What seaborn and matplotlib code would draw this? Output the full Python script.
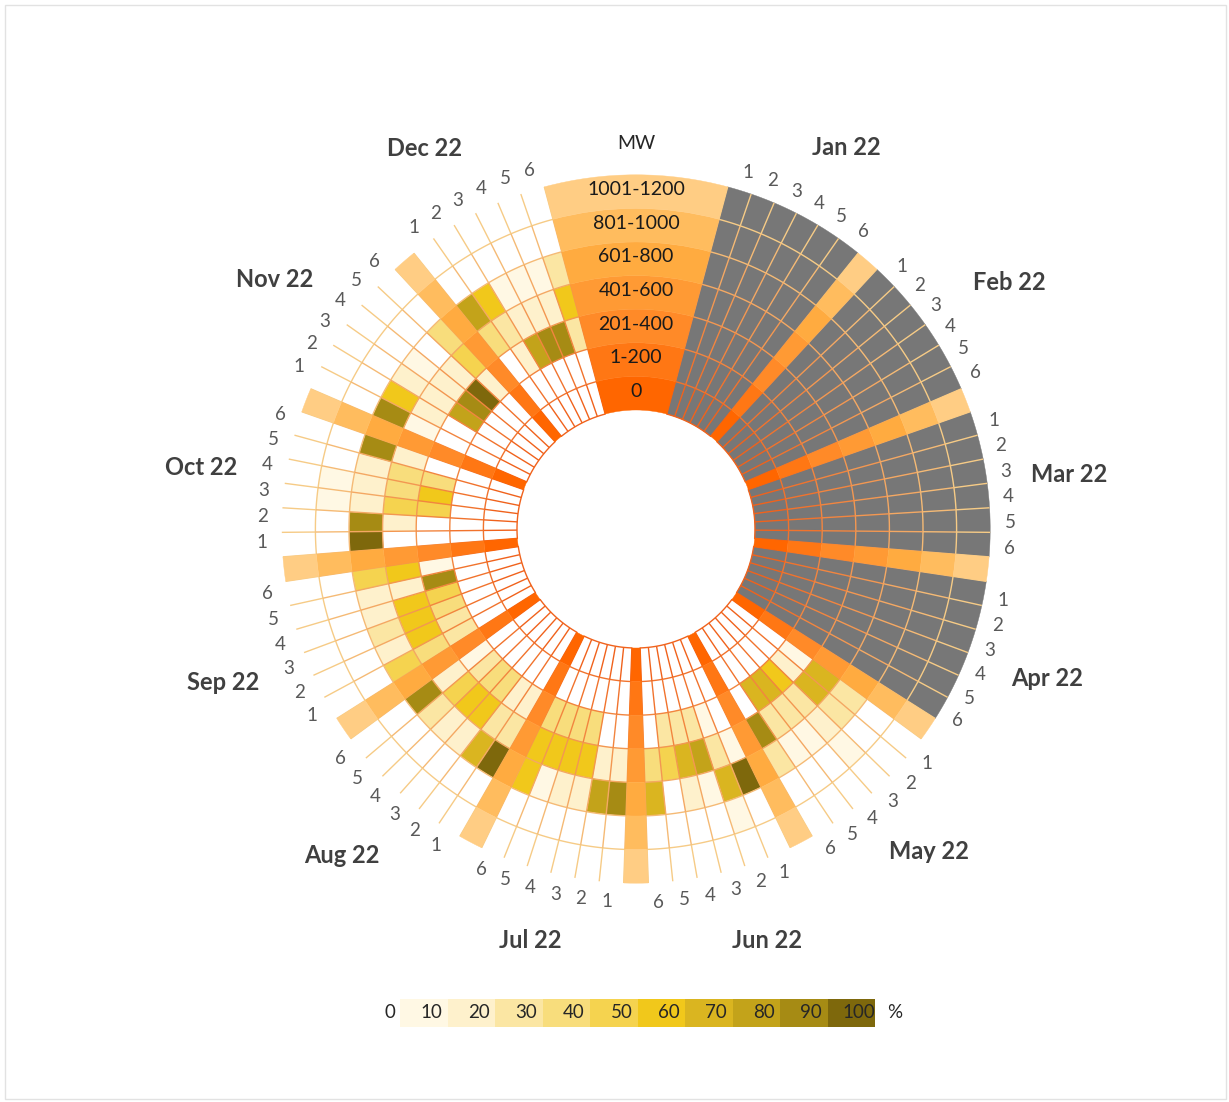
import numpy as np
import matplotlib
matplotlib.use("Agg")
import matplotlib.pyplot as plt
from matplotlib.colors import ListedColormap
from matplotlib.patches import Rectangle
import seaborn as sns

# ---------------- data ----------------
months = ["Jan 22", "Feb 22", "Mar 22", "Apr 22", "May 22", "Jun 22",
          "Jul 22", "Aug 22", "Sep 22", "Oct 22", "Nov 22", "Dec 22"]
items = ["1", "2", "3", "4", "5", "6"]
mw_bins = ["0", "1-200", "201-400", "401-600", "601-800", "801-1000", "1001-1200"]
legend_ticks = ["0", "10", "20", "30", "40", "50", "60", "70", "80", "90", "100"]

# share of time (%) per item and MW bin (inner -> outer); None = no data
jan = None
feb = None
mar = None
apr = None
may = [[0, 0, 5, 65, 25, 0, 0],
       [0, 0, 15, 65, 25, 0, 0],
       [0, 0, 55, 25, 15, 5, 0],
       [0, 0, 65, 25, 5, 0, 0],
       [0, 0, 65, 25, 5, 0, 0],
       [0, 0, 0, 85, 25, 0, 0]]
jun = [[0, 0, 0, 5, 95, 0, 0],
       [0, 0, 5, 25, 65, 5, 0],
       [0, 0, 25, 70, 5, 0, 0],
       [0, 0, 25, 65, 10, 0, 0],
       [0, 0, 25, 45, 0, 0, 0],
       [0, 0, 0, 35, 65, 0, 0]]
jul = [[0, 0, 0, 10, 85, 0, 0],
       [0, 0, 0, 15, 70, 0, 0],
       [0, 0, 30, 55, 10, 0, 0],
       [0, 0, 35, 55, 10, 0, 0],
       [0, 0, 35, 50, 5, 0, 0],
       [0, 0, 30, 50, 55, 0, 0]]
aug = [[0, 0, 10, 25, 95, 0, 0],
       [0, 0, 15, 25, 65, 0, 0],
       [0, 0, 30, 55, 10, 0, 0],
       [0, 0, 35, 55, 15, 0, 0],
       [0, 0, 25, 45, 25, 0, 0],
       [0, 0, 5, 15, 85, 0, 0]]
sep = [[0, 0, 25, 35, 45, 0, 0],
       [0, 0, 25, 55, 10, 0, 0],
       [0, 0, 35, 55, 25, 0, 0],
       [0, 0, 45, 55, 10, 0, 0],
       [0, 0, 85, 15, 10, 0, 0],
       [0, 0, 5, 55, 45, 0, 0]]
oct_ = [[0, 0, 0, 0, 95, 0, 0],
        [0, 0, 0, 15, 85, 0, 0],
        [0, 0, 45, 45, 15, 5, 0],
        [0, 0, 55, 35, 10, 5, 0],
        [0, 0, 35, 35, 10, 0, 0],
        [0, 0, 0, 15, 85, 0, 0]]
nov = [[0, 0, 0, 5, 80, 0, 0],
       [0, 0, 0, 15, 55, 0, 0],
       [0, 0, 75, 15, 15, 0, 0],
       [0, 0, 85, 15, 5, 0, 0],
       [0, 0, 95, 10, 0, 0, 0],
       [0, 0, 10, 45, 30, 0, 0]]
dec = [[0, 0, 0, 35, 75, 0, 0],
       [0, 0, 15, 25, 55, 0, 0],
       [0, 0, 75, 15, 5, 0, 0],
       [0, 0, 85, 15, 5, 0, 0],
       [0, 0, 85, 10, 5, 0, 0],
       [0, 0, 25, 55, 25, 0, 0]]
month_data = [jan, feb, mar, apr, may, jun, jul, aug, sep, oct_, nov, dec]
legend_values = [5, 15, 25, 35, 45, 55, 65, 75, 85, 95]

# ---------------- layout / styles ----------------
sns.set_theme(style="white")
plt.rcParams["font.family"] = ["Lato", "DejaVu Sans"]

scale_colors = ["#FFF8E4", "#FEF1CC", "#FBE6A3", "#F8DD7C", "#F5D34F",
                "#F1C81B", "#DAB520", "#C3A31A", "#A68B14", "#7E680C"]
ring_colors = ["#FF6600", "#FF7714", "#FF8A28", "#FF9A34", "#FFAB40",
               "#FFBC5E", "#FFCD84"]
line_colors = sns.blend_palette(["#F0621C", "#F6CB86"], 7)
gray = "#777777"

# month label placement (angle in degrees clockwise from top, radius in px)
label_angle = [28.9, 56.6, 82.9, 110.0, 137.8, 162.3, 194.4, 222.0, 249.6, 278.0, 304.7, 330.9]
label_radius = [436, 447, 437, 437, 436, 432, 425, 440, 440, 439, 439, 435]

W, H = 1229, 1102
CX, CY = 636, 529
RAX = 470
R0, RW, NR = 119, 33.6, 7
edges = [R0 + k * RW for k in range(NR + 1)]

LABEL_SPAN = 30.0
slot = (360.0 - LABEL_SPAN) / 83.0


def slot_center(k):
    return np.deg2rad(LABEL_SPAN / 2 + (k + 0.5) * slot)


def cell_color(v):
    if v is None:
        return gray
    if v <= 0:
        return "white"
    return scale_colors[min(int(v // 10), 9)]


fig = plt.figure(figsize=(W / 100, H / 100), dpi=100)
ax = fig.add_axes([(CX - RAX) / W, (H - CY - RAX) / H, 2 * RAX / W, 2 * RAX / H],
                  projection="polar")
ax.set_theta_zero_location("N")
ax.set_theta_direction(-1)
ax.set_ylim(0, RAX)
ax.axis("off")

wrad = np.deg2rad(slot)

# cells
for m, data in enumerate(month_data):
    base = m * 7
    th = [slot_center(base + i) for i in range(6)]
    for r in range(NR):
        vals = [None if data is None else data[i][r] for i in range(6)]
        cols = [cell_color(v) for v in vals]
        ax.bar(th, [RW] * 6, width=wrad, bottom=edges[r], color=cols,
               edgecolor=cols, linewidth=0.3, align="center", zorder=1)

# grid lines inside the month blocks
for m in range(12):
    base = m * 7
    t0 = np.deg2rad(LABEL_SPAN / 2 + base * slot)
    t1 = np.deg2rad(LABEL_SPAN / 2 + (base + 6) * slot)
    tt = np.linspace(t0, t1, 60)
    for r in range(NR):
        ax.plot(tt, np.full_like(tt, edges[r]), color=line_colors[r], lw=1.0, zorder=2)
    for b in range(7):
        tb = np.deg2rad(LABEL_SPAN / 2 + (base + b) * slot)
        for r in range(NR):
            ax.plot([tb, tb], [edges[r], edges[r + 1]], color=line_colors[r],
                    lw=1.0, zorder=2, solid_capstyle="butt")

# separators between months
sep_slots = [m * 7 + 6 for m in range(11)]
for r in range(NR):
    ax.bar([slot_center(k) for k in sep_slots], [RW] * len(sep_slots), width=wrad,
           bottom=edges[r], color=ring_colors[r], edgecolor=ring_colors[r],
           linewidth=0.3, align="center", zorder=3)

# MW label wedge
for r in range(NR):
    ax.bar(0, RW, width=np.deg2rad(LABEL_SPAN), bottom=edges[r], color=ring_colors[r],
           edgecolor=ring_colors[r], linewidth=0.3, align="center", zorder=3)
    ax.text(0, edges[r] + RW / 2 + 2, mw_bins[r], ha="center", va="center",
            fontsize=14, color="#1A1A1A", zorder=5)
ax.text(0, 386, "MW", ha="center", va="center", fontsize=14, color="#262626")

# item numbers and month labels
for m in range(12):
    base = m * 7
    for i in range(6):
        ax.text(slot_center(base + i) + np.deg2rad(0.5), 374, items[i], ha="center",
                va="center", fontsize=13.5, color="#595959")
    ax.text(np.deg2rad(label_angle[m]), label_radius[m], months[m], ha="center",
            va="center", fontsize=17, fontweight="bold", color="#404040")

# legend strip
lax = fig.add_axes([400 / W, (H - 1027) / H, 475 / W, 28 / H])
sns.heatmap(np.array([legend_values]), cmap=ListedColormap(scale_colors), vmin=0, vmax=100,
            cbar=False, ax=lax, xticklabels=False, yticklabels=False, linewidths=0)
for k in range(1, 11):
    lax.text(k - 1 + 0.66, 0.5, legend_ticks[k], ha="center", va="center",
             fontsize=13.5, color="#262626")
lax.text(-0.22, 0.5, legend_ticks[0], ha="center", va="center", fontsize=13.5, color="#262626")
lax.text(10.42, 0.5, "%", ha="center", va="center", fontsize=13.5, color="#262626")
lax.set_xlim(0, 10)
lax.set_ylim(1, 0)
for s in lax.spines.values():
    s.set_visible(False)

fig.add_artist(Rectangle((5 / W, 3 / H), 1221 / W, 1094 / H, transform=fig.transFigure,
                         fill=False, edgecolor="#E2E2E2", linewidth=1))

fig.savefig("out.png", dpi=100, facecolor="white")
